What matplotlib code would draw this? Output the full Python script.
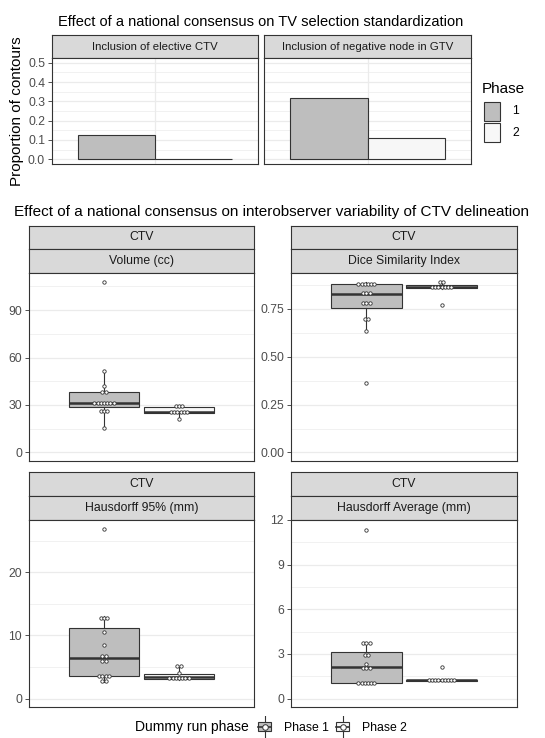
import numpy as np
import matplotlib.pyplot as plt
from matplotlib.patches import Rectangle

plt.rcParams['font.family'] = ['Liberation Sans', 'DejaVu Sans']

# ---- data -------------------------------------------------------------
tv_items = ['Inclusion of elective CTV', 'Inclusion of negative node in GTV']
tv_phase1 = [0.125, 0.315]
tv_phase2 = [0.0, 0.11]
tv_ticks = [0.0, 0.1, 0.2, 0.3, 0.4, 0.5]

metric_names = ['Volume (cc)', 'Dice Similarity Index',
                'Hausdorff 95% (mm)', 'Hausdorff Average (mm)']

volume_p1 = [15.5, 26, 26.5, 27, 29.5, 30, 30.5, 31, 31.5, 32, 32.5, 38, 38.5, 42, 51.5, 108]
volume_p2 = [21, 24.8, 25, 25.2, 25.4, 25.6, 26.8, 29, 29.5, 30]
dice_p1 = [0.364, 0.635, 0.69, 0.70, 0.775, 0.78, 0.785, 0.825, 0.83, 0.835,
           0.875, 0.878, 0.88, 0.882, 0.885, 0.888]
dice_p2 = [0.768, 0.855, 0.858, 0.86, 0.862, 0.864, 0.87, 0.872, 0.89, 0.892]
hd95_p1 = [2.6, 2.8, 3.45, 3.55, 3.65, 3.75, 5.8, 6.0, 6.7, 6.9, 8.4, 10.6, 12.6, 12.8, 13.0, 26.9]
hd95_p2 = [3.0, 3.05, 3.1, 3.2, 3.3, 3.4, 3.6, 4.0, 5.0, 5.2]
hdavg_p1 = [1.0, 1.02, 1.04, 1.06, 1.08, 1.1, 1.95, 2.05, 2.15, 2.32, 2.9, 2.95, 3.7, 3.73, 3.76, 11.3]
hdavg_p2 = [1.18, 1.2, 1.21, 1.22, 1.23, 1.24, 1.25, 1.26, 1.28, 2.13]

metric_p1 = [volume_p1, dice_p1, hd95_p1, hdavg_p1]
metric_p2 = [volume_p2, dice_p2, hd95_p2, hdavg_p2]
metric_ticks = [[0, 30, 60, 90], [0, 0.25, 0.5, 0.75], [0, 10, 20], [0, 3, 6, 9, 12]]
metric_ticklabels = [['0', '30', '60', '90'], ['0.00', '0.25', '0.50', '0.75'],
                     ['0', '10', '20'], ['0', '3', '6', '9', '12']]

# ---- style ------------------------------------------------------------
W, H = 545, 738
fill1, fill2 = '#bebebe', '#f7f7f7'
dark = '#333333'
grid = '#ebebeb'
strip_fill = '#d9d9d9'
tick_col = '#4d4d4d'

fig = plt.figure(figsize=(W / 100, H / 100), dpi=100)


def px(x0, y0, x1, y1):
    return [x0 / W, 1 - y1 / H, (x1 - x0) / W, (y1 - y0) / H]


def style_panel(ax, ticks, labels, ylim, xgrid=True):
    ax.set_xlim(0.4, 1.6)
    ax.set_ylim(*ylim)
    ax.set_yticks(ticks)
    ax.set_yticklabels(labels)
    minor = [(a + b) / 2 for a, b in zip(ticks[:-1], ticks[1:])]
    step = ticks[1] - ticks[0]
    if ticks[-1] + step / 2 < ylim[1]:
        minor.append(ticks[-1] + step / 2)
    ax.set_yticks(minor, minor=True)
    ax.set_xticks([1] if xgrid else [])
    ax.tick_params(axis='x', length=0, labelbottom=False)
    ax.tick_params(axis='y', which='major', length=3, width=0.6, color=dark,
                   labelsize=8.8, labelcolor=tick_col, pad=2)
    ax.tick_params(axis='y', which='minor', length=0)
    ax.grid(True, which='major', color=grid, lw=0.9, zorder=0)
    ax.grid(True, which='minor', axis='y', color=grid, lw=0.5, zorder=0)
    ax.set_axisbelow(True)
    for s in ax.spines.values():
        s.set_color(dark)
        s.set_linewidth(0.8)


def strip(rect, text, size=8.8):
    sa = fig.add_axes(rect)
    sa.set_facecolor(strip_fill)
    sa.set_xticks([])
    sa.set_yticks([])
    for s in sa.spines.values():
        s.set_color(dark)
        s.set_linewidth(0.8)
    sa.text(0.5, 0.5, text, ha='center', va='center', fontsize=size,
            color='#1a1a1a', transform=sa.transAxes)


# ---- top row: bar charts ---------------------------------------------
fig.text(261 / W, 1 - 26.5 / H, 'Effect of a national consensus on TV selection standardization',
         ha='center', va='baseline', fontsize=10.5)

top_x = [(52, 258), (264, 471)]
for i, (x0, x1) in enumerate(top_x):
    strip(px(x0, 35, x1, 58), tv_items[i], size=8.2)
    ax = fig.add_axes(px(x0, 58, x1, 164))
    ax.bar(0.775, tv_phase1[i], width=0.45, color=fill1, edgecolor=dark, lw=0.8, zorder=2)
    ax.bar(1.225, tv_phase2[i], width=0.45, color=fill2, edgecolor=dark, lw=0.8, zorder=2)
    style_panel(ax, tv_ticks, ['%.1f' % t for t in tv_ticks], (-0.025, 0.525))
    if i == 1:
        ax.tick_params(axis='y', labelleft=False, length=0)

fig.text(17 / W, 1 - 111 / H, 'Proportion of contours', rotation=90,
         ha='center', va='center', fontsize=11)

# top legend
fig.text(482 / W, 1 - 93 / H, 'Phase', ha='left', va='baseline', fontsize=11)
for k, (fc, lab) in enumerate([(fill1, '1'), (fill2, '2')]):
    y0 = 102 + k * 21
    fig.add_artist(Rectangle((484 / W, 1 - (y0 + 19) / H), 16 / W, 19 / H,
                             facecolor=fc, edgecolor=dark, lw=0.8,
                             transform=fig.transFigure))
    fig.text(512 / W, 1 - (y0 + 9.5) / H, lab, ha='left', va='center', fontsize=8.8)

# ---- bottom: box + dot plots -----------------------------------------
fig.text(271 / W, 1 - 216 / H,
         'Effect of a national consensus on interobserver variability of CTV delineation',
         ha='center', va='baseline', fontsize=11)


def dot_bins(vals, bw):
    v = np.sort(np.asarray(vals, float))
    out = []
    i = 0
    while i < len(v):
        j = i
        while j + 1 < len(v) and v[j + 1] - v[i] < bw:
            j += 1
        out.append(((v[i] + v[j]) / 2, j - i + 1))
        i = j + 1
    return out


cols = [(29, 254), (291, 517)]
rows = [(226, 249, 273, 461), (472, 496, 520, 707)]
for m in range(4):
    r, c = divmod(m, 2)
    x0, x1 = cols[c]
    s0, s1, p0, p1 = rows[r]
    strip(px(x0, s0, x1, s1), 'CTV')
    strip(px(x0, s1, x1, p0), metric_names[m])
    ax = fig.add_axes(px(x0, p0, x1, p1))
    d1, d2 = metric_p1[m], metric_p2[m]
    top = max(max(d1), max(d2))
    ylim = (-0.05 * top, 1.05 * top)
    ax.boxplot([d1, d2], positions=[0.8, 1.2], widths=0.375, patch_artist=True,
               showfliers=False, showcaps=False,
               boxprops=dict(edgecolor=dark, lw=0.8),
               whiskerprops=dict(color=dark, lw=0.8),
               medianprops=dict(color=dark, lw=1.8), zorder=2)
    for patch, fc in zip(ax.patches, [fill1, fill2]):
        patch.set_facecolor(fc)
    allv = np.concatenate([d1, d2])
    bw = (allv.max() - allv.min()) / 30
    sp = 3.2 * 1.2 / (x1 - x0)
    for xpos, d in [(0.8, d1), (1.2, d2)]:
        for centre, n in dot_bins(d, bw):
            xs = xpos + (np.arange(n) - (n - 1) / 2) * sp
            ax.scatter(xs, np.full(n, centre), s=6, facecolor='white',
                       edgecolor=dark, lw=0.6, zorder=3)
    style_panel(ax, metric_ticks[m], metric_ticklabels[m], ylim, xgrid=False)

# bottom legend
fig.text(249 / W, 1 - 731 / H, 'Dummy run phase', ha='right', va='baseline', fontsize=10)
for k, (fc, lab, kx) in enumerate([(fill1, 'Phase 1', 256), (fill2, 'Phase 2', 334)]):
    ka = fig.add_axes(px(kx, 716, kx + 17, 738))
    ka.set_xlim(0, 1)
    ka.set_ylim(0, 1)
    ka.axis('off')
    ka.plot([0.5, 0.5], [0.0, 1.0], color=dark, lw=0.8, zorder=1)
    ka.add_patch(Rectangle((0.1, 0.3), 0.8, 0.42, facecolor=fc, edgecolor=dark, lw=0.8, zorder=2))
    ka.plot([0.1, 0.9], [0.5, 0.5], color=dark, lw=1.2, zorder=3)
    ka.scatter([0.5], [0.5], s=16, facecolor='white', edgecolor=dark, lw=0.7, zorder=4)
    fig.text((kx + 28) / W, 1 - 731 / H, lab, ha='left', va='baseline', fontsize=8.8)

fig.savefig('out.png', dpi=100)
